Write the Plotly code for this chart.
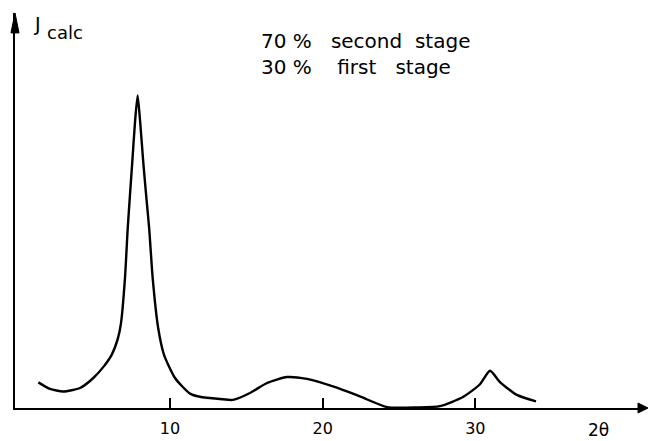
import plotly.graph_objects as go

# Calculated diffraction profile: 70 % second stage + 30 % first stage
two_theta = [1.38, 2.14, 3.01, 4.11, 4.98, 5.68, 6.18, 6.59, 6.79, 7.05, 7.23,
             7.38, 7.53, 7.71, 7.88, 8.04, 8.25, 8.46, 8.64, 8.87, 9.23, 9.61,
             10.33, 11.31, 11.96, 13.27, 14.13, 15.24, 16.35, 17.66, 18.97,
             20.67, 22.44, 24.21, 26.18, 27.68, 29.19, 30.30, 30.96, 31.61,
             32.72, 33.97]
intensity = [8.2, 6.1, 5.3, 6.4, 9.6, 13.4, 17.0, 22.3, 27.1, 41.4, 57.3,
             68.2, 78.7, 91.5, 100.0, 92.0, 78.7, 66.9, 57.3, 41.4, 25.5, 17.0,
             9.6, 4.6, 3.6, 2.9, 2.6, 4.8, 8.0, 9.9, 9.3,
             6.9, 3.7, 0.3, 0.2, 0.6, 3.5, 7.6, 11.9, 8.3,
             4.2, 2.1]

tick_values = [10, 20, 30]
tick_labels = ["10", "20", "30"]

x_range = [-0.15, 41.11]
y_range = [0, 126.4]

FONT = "DejaVu Sans"

fig = go.Figure()
fig.add_trace(go.Scatter(
    x=two_theta, y=intensity, mode="lines",
    line=dict(color="black", width=2.4, shape="spline", smoothing=0.6),
    hoverinfo="skip", showlegend=False,
))

fig.update_layout(
    width=648, height=441,
    margin=dict(l=15, r=3, t=13, b=31),
    paper_bgcolor="white", plot_bgcolor="white",
    showlegend=False,
    font=dict(family=FONT, color="black"),
    xaxis=dict(
        range=x_range, showline=True, linecolor="black", linewidth=2,
        showgrid=False, zeroline=False,
        ticks="inside", ticklen=10, tickwidth=1.5, tickcolor="black",
        tickvals=tick_values, ticktext=tick_labels,
        tickfont=dict(family=FONT, size=16, color="black"),
        ticklabelstandoff=5,
    ),
    yaxis=dict(
        range=y_range, showline=True, linecolor="black", linewidth=2,
        showgrid=False, zeroline=False, showticklabels=False, ticks="",
    ),
)

# Arrowheads at the ends of both axes
fig.add_shape(type="path", xref="paper", yref="paper",
              path="M 1.0048 0 L 0.9889 0.0126 L 0.9889 -0.0126 Z",
              fillcolor="black", line=dict(color="black", width=1))
fig.add_shape(type="path", xref="paper", yref="paper",
              path="M 0 1 L -0.0064 0.9496 L 0.0064 0.9496 Z",
              fillcolor="black", line=dict(color="black", width=1))

nb = "\u00a0"
annotations = [
    dict(text="J", x=(37 - 15) / 630, y=(410 - 24) / 397, size=19,
         xanchor="center"),
    dict(text="calc", x=(45 - 15) / 630, y=(410 - 33) / 397, size=18,
         xanchor="left"),
    dict(text="70" + nb + "%" + nb * 3 + "second" + nb * 2 + "stage",
         x=(259 - 15) / 630, y=(410 - 41) / 397, size=20, xanchor="left"),
    dict(text="30" + nb + "%" + nb * 4 + "first" + nb * 3 + "stage",
         x=(259 - 15) / 630, y=(410 - 67) / 397, size=20, xanchor="left"),
    dict(text="2θ", x=(598 - 15) / 630, y=(410 - 432) / 397, size=17,
         xanchor="center"),
]
for a in annotations:
    fig.add_annotation(
        text=a["text"], x=a["x"], y=a["y"], xref="paper", yref="paper",
        xanchor=a["xanchor"], yanchor="middle", showarrow=False,
        font=dict(family=FONT, size=a["size"], color="black"),
    )

fig.write_html("out.html")
